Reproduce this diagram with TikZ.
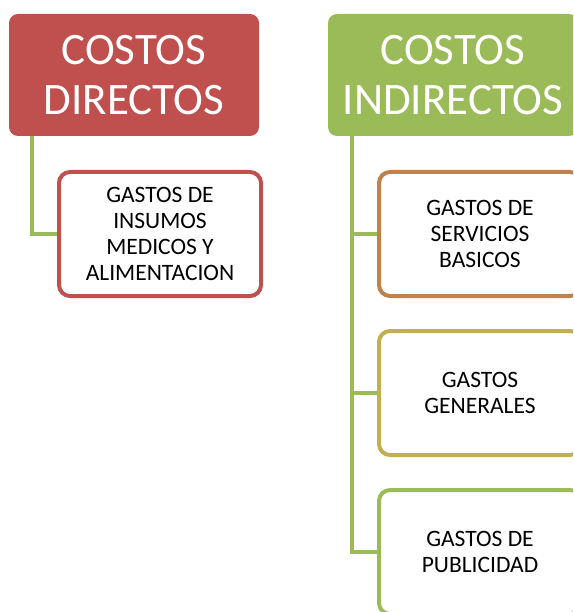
\documentclass[tikz,border=0pt]{standalone}
\usepackage{fontspec}
\setmainfont{Carlito}
\definecolor{cred}{HTML}{C0504D}
\definecolor{cgreen}{HTML}{9BBB59}
\definecolor{cbrown}{HTML}{C0814D}
\definecolor{colive}{HTML}{C0B050}
\tikzset{
  titlebox/.style={rectangle, rounded corners=9pt, minimum width=250pt, minimum height=122pt,
    inner sep=0pt, text=white, align=center, font=\fontsize{45}{50}\selectfont},
  childbox/.style={rectangle, rounded corners=11pt, line width=4pt, fill=white,
    minimum width=202pt, minimum height=124pt, inner sep=0pt, align=center,
    font=\fontsize{23.5}{26.3}\selectfont},
  conn/.style={draw=cgreen, line width=4pt}
}
\begin{document}
\begin{tikzpicture}[x=1pt,y=-1pt]
\useasboundingbox (0,0) rectangle (573,612);
\clip (0,0) rectangle (573,612);
\node[titlebox, fill=cred] (dir) at (134,75) {COSTOS\\DIRECTOS};
\node[titlebox, fill=cgreen] (ind) at (453,75) {COSTOS\\INDIRECTOS};
\node[childbox, draw=cred] (c1) at (160,234) {GASTOS DE\\INSUMOS\\MEDICOS Y\\ALIMENTACION};
\node[childbox, draw=cbrown] (c2) at (480,234) {GASTOS DE\\SERVICIOS\\BASICOS};
\node[childbox, draw=colive] (c3) at (480,393) {GASTOS\\GENERALES};
\node[childbox, draw=cgreen] (c4) at (480,552) {GASTOS DE\\PUBLICIDAD};
\coordinate (dtop) at ([xshift=23pt]dir.south west);
\coordinate (itop) at ([xshift=24pt]ind.south west);
\draw[conn] (dtop) |- (c1.west);
\draw[conn] (itop) |- (c2.west);
\draw[conn] (itop) |- (c3.west);
\draw[conn] (itop) |- (c4.west);
\end{tikzpicture}
\end{document}
